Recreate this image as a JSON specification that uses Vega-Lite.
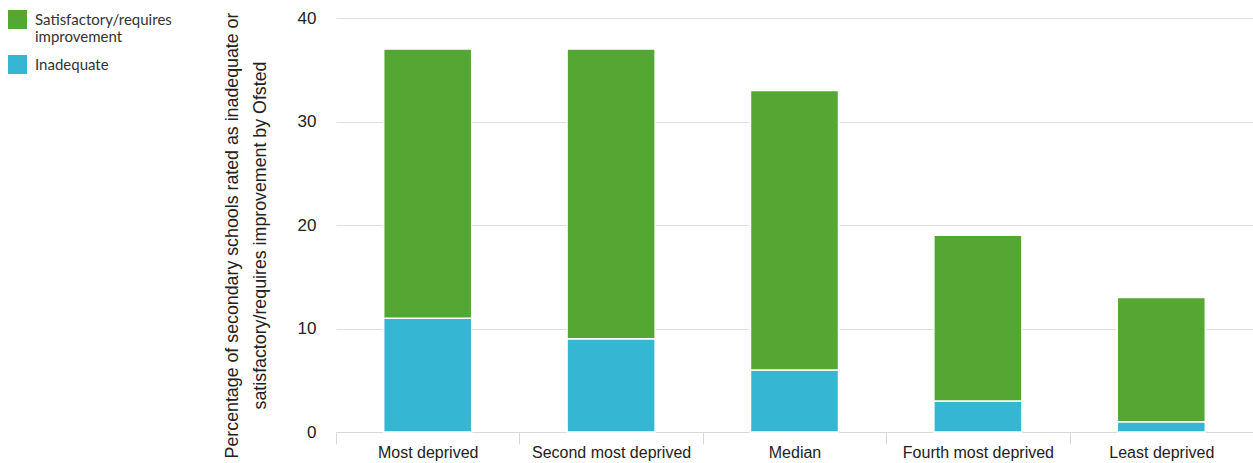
{
  "$schema": "https://vega.github.io/schema/vega-lite/v6.json",
  "width": 917,
  "height": 414,
  "autosize": {"type": "none"},
  "padding": {"left": 336, "top": 18, "right": 0, "bottom": 31},
  "data": {
    "values": [
      {"group": "Most deprived", "rating": "Inadequate", "value": 11, "ord": 1},
      {"group": "Most deprived", "rating": "Satisfactory/requires improvement", "value": 26, "ord": 2},
      {"group": "Second most deprived", "rating": "Inadequate", "value": 9, "ord": 1},
      {"group": "Second most deprived", "rating": "Satisfactory/requires improvement", "value": 28, "ord": 2},
      {"group": "Median", "rating": "Inadequate", "value": 6, "ord": 1},
      {"group": "Median", "rating": "Satisfactory/requires improvement", "value": 27, "ord": 2},
      {"group": "Fourth most deprived", "rating": "Inadequate", "value": 3, "ord": 1},
      {"group": "Fourth most deprived", "rating": "Satisfactory/requires improvement", "value": 16, "ord": 2},
      {"group": "Least deprived", "rating": "Inadequate", "value": 1, "ord": 1},
      {"group": "Least deprived", "rating": "Satisfactory/requires improvement", "value": 12, "ord": 2}
    ]
  },
  "mark": {"type": "bar", "stroke": "white", "strokeWidth": 1.5},
  "encoding": {
    "x": {
      "field": "group",
      "type": "nominal",
      "sort": ["Most deprived", "Second most deprived", "Median", "Fourth most deprived", "Least deprived"],
      "scale": {"paddingInner": 0.52, "paddingOuter": 0.26},
      "axis": {
        "title": null,
        "labelAngle": 0,
        "labelFont": "Liberation Sans",
        "labelFontSize": 16,
        "labelColor": "#222",
        "labelPadding": 0,
        "tickOffset": -91.7,
        "labelOffset": 91.7,
        "tickSize": 12,
        "tickColor": "#d9d9d9",
        "domainColor": "#d9d9d9",
        "grid": false
      }
    },
    "y": {
      "field": "value",
      "type": "quantitative",
      "stack": "zero",
      "scale": {"domain": [0, 40]},
      "axis": {
        "values": [0, 10, 20, 30, 40],
        "title": ["Percentage of secondary schools rated as inadequate or", "satisfactory/requires improvement by Ofsted"],
        "titleFont": "Liberation Sans",
        "titleFontSize": 17.8,
        "titleFontWeight": "normal",
        "titleColor": "#222",
        "titlePadding": 28,
        "titleLineHeight": 28,
        "titleY": 217,
        "labelFont": "Liberation Sans",
        "labelFontSize": 17,
        "labelColor": "#222",
        "labelPadding": 20,
        "ticks": false,
        "domain": false,
        "grid": true,
        "gridColor": "#e0e0e0"
      }
    },
    "color": {
      "field": "rating",
      "type": "nominal",
      "scale": {
        "domain": ["Satisfactory/requires improvement", "Inadequate"],
        "range": ["#55a734", "#35b6d2"]
      },
      "legend": {
        "title": null,
        "orient": "none",
        "legendX": -328,
        "legendY": -8,
        "symbolType": "square",
        "symbolSize": 360,
        "symbolStrokeWidth": 0,
        "symbolOpacity": 1,
        "labelFont": "Lato",
        "labelFontSize": 15,
        "labelColor": "#333",
        "labelLimit": 300,
        "labelOffset": 8,
        "rowPadding": 10,
        "labelExpr": "datum.label == 'Satisfactory/requires improvement' ? ['Satisfactory/requires', 'improvement'] : datum.label"
      }
    },
    "order": {"field": "ord", "type": "quantitative"}
  },
  "config": {"view": {"stroke": null}}
}
